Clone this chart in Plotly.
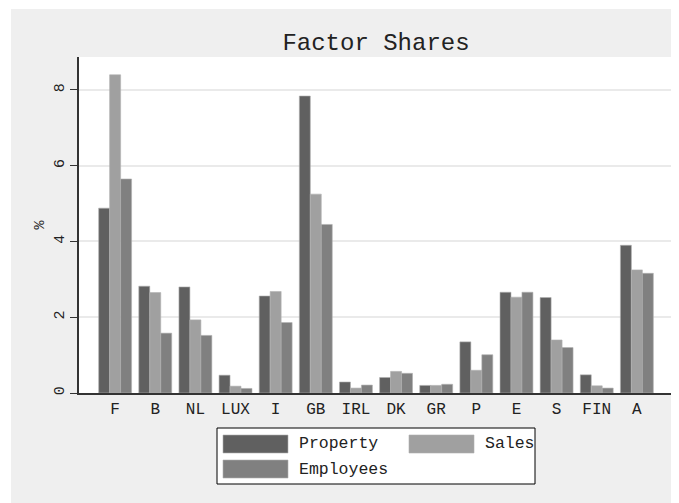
import plotly.graph_objects as go

# Country shares (in %)
countries = ["F", "B", "NL", "LUX", "I", "GB", "IRL", "DK", "GR", "P", "E", "S", "FIN", "A"]
property_share = [4.88, 2.82, 2.80, 0.47, 2.56, 7.84, 0.29, 0.41, 0.20, 1.35, 2.66, 2.52, 0.48, 3.90]
sales_share = [8.40, 2.65, 1.93, 0.18, 2.68, 5.25, 0.13, 0.57, 0.20, 0.60, 2.53, 1.40, 0.19, 3.25]
employees_share = [5.65, 1.58, 1.52, 0.12, 1.86, 4.45, 0.21, 0.52, 0.23, 1.01, 2.66, 1.20, 0.13, 3.16]
y_ticks = [0, 2, 4, 6, 8]

series_names = ["Property", "Sales", "Employees"]
series_colors = ["#606060", "#a0a0a0", "#808080"]

# the page body adds an 8px margin, so figure pixels = screen pixels - 8
W, H = 679, 503
L, R, T, B = 71, 665, 49, 385  # plot area in figure pixels
FONT = "Liberation Mono, Courier New, monospace"


def px_x(p):
    return (p - L) / (R - L)


def px_y(p):
    return (B - p) / (B - T)


fig = go.Figure()
for name, vals, col in zip(series_names, [property_share, sales_share, employees_share], series_colors):
    fig.add_trace(go.Bar(
        x=countries, y=vals, name=name,
        marker=dict(color=col, line=dict(color="#b0b0b0", width=0.6)),
        showlegend=False,
    ))

shapes = [
    # thin white border around the grey graph region
    dict(type="rect", xref="paper", yref="paper", x0=px_x(0), x1=px_x(W), y0=px_y(0), y1=px_y(1),
         fillcolor="white", line=dict(width=0), layer="below"),
    dict(type="rect", xref="paper", yref="paper", x0=px_x(0), x1=px_x(3), y0=px_y(0), y1=px_y(H),
         fillcolor="white", line=dict(width=0), layer="below"),
    # legend box
    dict(type="rect", xref="paper", yref="paper", x0=px_x(209), x1=px_x(527), y0=px_y(420), y1=px_y(476),
         fillcolor="white", line=dict(color="black", width=1)),
]
annotations = []

# manual legend: two columns, wide swatches like the original
legend_slots = [(215, 427), (401, 427), (215, 452)]
for (sx, sy), name, col in zip(legend_slots, series_names, series_colors):
    shapes.append(dict(type="rect", xref="paper", yref="paper",
                       x0=px_x(sx), x1=px_x(sx + 65), y0=px_y(sy), y1=px_y(sy + 18),
                       fillcolor=col, line=dict(color="#b0b0b0", width=0.6)))
    annotations.append(dict(text=name, xref="paper", yref="paper", x=px_x(sx + 74), y=px_y(sy + 9),
                            xanchor="left", yanchor="middle", showarrow=False,
                            font=dict(family=FONT, size=16.5, color="#222")))

fig.update_layout(
    width=W, height=H,
    margin=dict(l=L, r=W - R, t=T, b=H - B, pad=0),
    paper_bgcolor="#efefef",
    plot_bgcolor="white",
    barmode="group",
    bargap=0.18,
    bargroupgap=0,
    title=dict(text="Factor Shares", x=0.5, xref="paper", xanchor="center",
               y=1 - 34 / H, yanchor="middle",
               font=dict(family=FONT, size=24, color="#222")),
    font=dict(family=FONT, color="#222"),
    xaxis=dict(range=[-0.9, 13.9], showgrid=False, showline=True, linecolor="#333", linewidth=1.5,
               ticks="", tickfont=dict(family=FONT, size=16, color="#222"), zeroline=False),
    yaxis=dict(range=[0, 8.87], tickvals=y_ticks, showgrid=True, gridcolor="#eaeaea", gridwidth=1.5,
               showline=True, linecolor="#333", linewidth=1.5, ticks="outside", ticklen=7,
               tickcolor="#333", tickangle=-90, zeroline=False,
               tickfont=dict(family=FONT, size=15, color="#222"),
               title=dict(text="%", font=dict(family=FONT, size=15, color="#222"), standoff=4)),
    shapes=shapes,
    annotations=annotations,
)

fig.write_html("out.html")
